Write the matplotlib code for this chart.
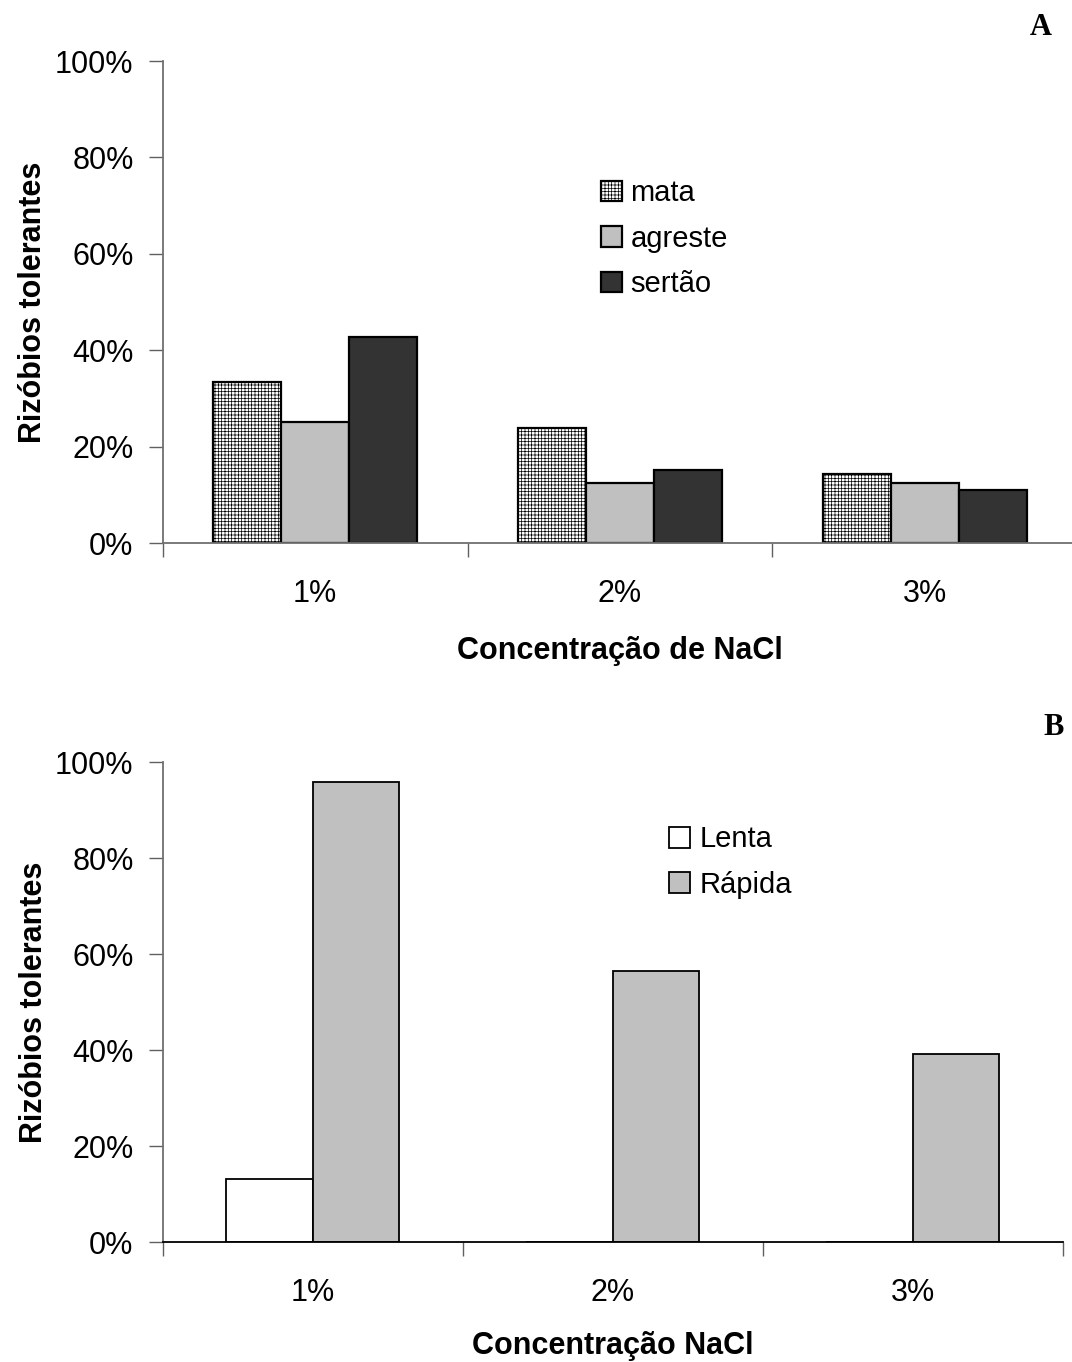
import numpy as np
import matplotlib.pyplot as plt
from matplotlib.ticker import PercentFormatter

plt.rcParams['font.family'] = ['Liberation Sans', 'DejaVu Sans']
plt.rcParams['hatch.linewidth'] = 0.5
plt.rcParams['hatch.color'] = '#505050'

categories = ['1%', '2%', '3%']

# painel A: origem dos rizobios
mata = [33.5, 23.9, 14.3]
agreste = [25.2, 12.5, 12.5]
sertao = [42.8, 15.2, 11.0]

# painel B: crescimento
lenta = [13.1, 0, 0]
rapida = [95.8, 56.5, 39.2]

FS = 22
LFS = 21

fig = plt.figure(figsize=(10.72, 13.62), dpi=100)
axA = fig.add_axes([0.1518, 0.6013, 0.853, 0.3539])
axB = fig.add_axes([0.1518, 0.0881, 0.8396, 0.3524])

x = np.arange(len(categories))


def style_axes(ax, xlabel, xlabel_y):
    ax.set_ylim(0, 100)
    ax.set_xlim(-0.5, 2.5)
    ax.set_yticks(np.arange(0, 101, 20))
    ax.yaxis.set_major_formatter(PercentFormatter(decimals=0))
    ax.set_xticks([-0.5, 0.5, 1.5, 2.5])
    ax.set_xticklabels([])
    ax.set_xticks(x, minor=True)
    ax.set_xticklabels(categories, minor=True)
    ax.tick_params(axis='x', which='minor', length=0, pad=26, labelsize=FS)
    ax.tick_params(axis='x', which='major', length=10, width=1, color='#606060')
    ax.tick_params(axis='y', length=10, width=1, color='#606060', labelsize=FS, pad=11)
    for s in ['top', 'right']:
        ax.spines[s].set_visible(False)
    for s in ['left', 'bottom']:
        ax.spines[s].set_color('#707070')
        ax.spines[s].set_linewidth(1.3)
    ax.set_xlabel(xlabel, fontsize=FS, fontweight='bold')
    ax.xaxis.set_label_coords(0.5, xlabel_y)
    ax.set_ylabel('Rizóbios tolerantes', fontsize=FS, fontweight='bold')
    ax.yaxis.set_label_coords(-0.126, 0.5)


w = 0.223
axA.bar(x - w, mata, w, color='white', edgecolor='black', hatch='+++++', linewidth=1.6, label='mata')
axA.bar(x, agreste, w, color='#c0c0c0', edgecolor='black', linewidth=1.6, label='agreste')
axA.bar(x + w, sertao, w, color='#333333', edgecolor='black', linewidth=1.6, label='sertão')
style_axes(axA, 'Concentração de NaCl', -0.192)
axA.legend(loc='upper left', bbox_to_anchor=(0.479, 0.755), frameon=False, fontsize=LFS,
           borderpad=0, borderaxespad=0, handlelength=0.72, handleheight=0.72,
           handletextpad=0.3, labelspacing=0.6)
fig.text(1030 / 1072, 1 - 35 / 1362, 'A', fontsize=22, fontweight='bold',
         family='Liberation Serif', ha='left', va='baseline')

wb = 0.288
axB.bar(x - wb / 2, lenta, wb, color='white', edgecolor='black', linewidth=1.3, label='Lenta')
axB.bar(x + wb / 2, rapida, wb, color='#c0c0c0', edgecolor='black', linewidth=1.3, label='Rápida')
style_axes(axB, 'Concentração NaCl', -0.185)
axB.spines['bottom'].set_color('black')
axB.legend(loc='upper left', bbox_to_anchor=(0.563, 0.868), frameon=False, fontsize=LFS,
           borderpad=0, borderaxespad=0, handlelength=0.72, handleheight=0.72,
           handletextpad=0.3, labelspacing=0.6)
fig.text(1043 / 1072, 1 - 735 / 1362, 'B', fontsize=22, fontweight='bold',
         family='Liberation Serif', ha='left', va='baseline')

fig.savefig('out.png', dpi=100)
